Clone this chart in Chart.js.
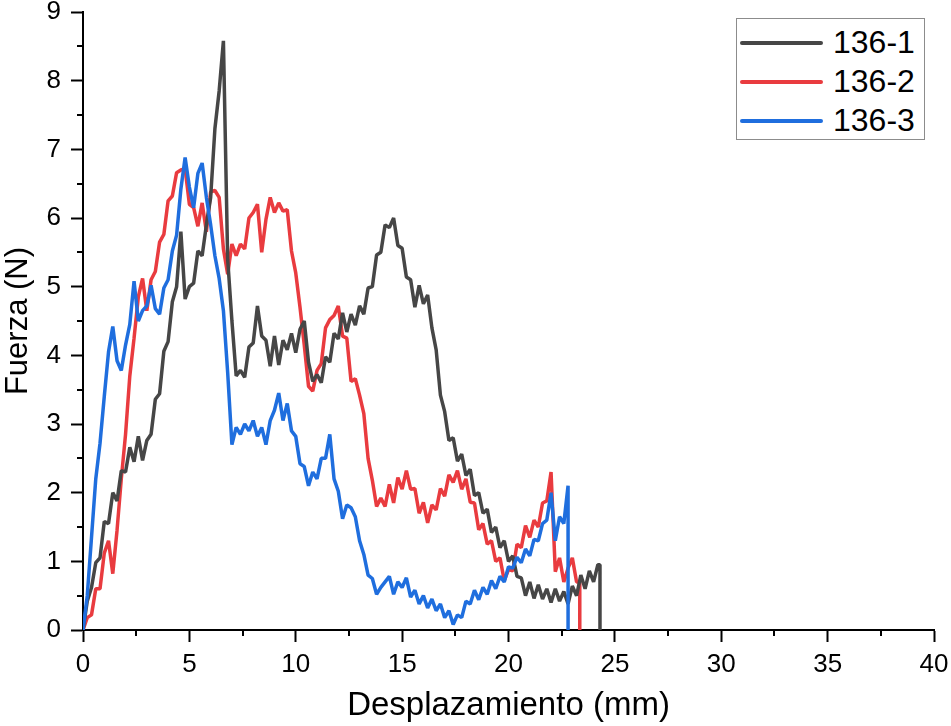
<!DOCTYPE html>
<html lang="es">
<head>
    <meta charset="UTF-8">
    <title>Fuerza vs Desplazamiento</title>
    <script src="https://cdn.jsdelivr.net/npm/chart.js"></script>
<style>
    body {
        margin: 0;
        background: #fff;
        font-family: 'Liberation Sans', Arial, sans-serif;
    }
    .contenedor {
        position: relative;
        width: 951px;
        height: 726px;
    }
    /* Leyenda dibujada a mano, arriba a la derecha */
    .leyenda {
        position: absolute;
        left: 736px;
        top: 18px;
        width: 189px;
        height: 122px;
        border: 1.5px solid #8c8c8c;
        background: #fff;
        padding-top: 4px;
        box-sizing: border-box;
    }
    .leyenda .fila {
        display: flex;
        align-items: center;
        height: 39px;
    }
    .leyenda .linea {
        width: 83px;
        height: 4px;
        border-radius: 2px;
        margin-left: 3px;
        margin-right: 10px;
    }
    .leyenda span {
        font-size: 32px;
        color: #000;
    }
</style>
</head>
<body>
<div class="contenedor">
    <canvas id="grafico" width="951" height="726"></canvas>
    <div class="leyenda" id="leyenda"></div>
</div>

<script>
// Datos
const etiquetas = ['136-1', '136-2', '136-3'];
const colores = ['#464646', '#e93b3f', '#1f6ede'];

// desplazamiento (mm), paso de 0.2
const desplazamiento = [0,0.2,0.4,0.6,0.8,1,1.2,1.4,1.6,1.8,2,2.2,2.4,2.6,2.8,3,3.2,3.4,3.6,3.8,
    4,4.2,4.4,4.6,4.8,5,5.2,5.4,5.6,5.8,6,6.2,6.4,6.6,6.8,7,7.2,7.4,7.6,7.8,
    8,8.2,8.4,8.6,8.8,9,9.2,9.4,9.6,9.8,10,10.2,10.4,10.6,10.8,11,11.2,11.4,11.6,11.8,
    12,12.2,12.4,12.6,12.8,13,13.2,13.4,13.6,13.8,14,14.2,14.4,14.6,14.8,15,15.2,15.4,15.6,15.8,
    16,16.2,16.4,16.6,16.8,17,17.2,17.4,17.6,17.8,18,18.2,18.4,18.6,18.8,19,19.2,19.4,19.6,19.8,
    20,20.2,20.4,20.6,20.8,21,21.2,21.4,21.6,21.8,22,22.2,22.4,22.6,22.8,23,23.2,23.4,23.6,23.8,
    24,24.2];

// fuerza (N) de cada probeta
const fuerza1 = [0,0.42,0.62,0.98,1.05,1.58,1.55,2.0,1.88,2.32,
    2.3,2.66,2.45,2.82,2.47,2.76,2.85,3.36,3.44,4.06,
    4.2,4.78,5.0,5.8,4.82,5.0,5.05,5.52,5.45,5.9,
    6.3,7.3,7.85,8.58,5.4,4.5,3.7,3.78,3.68,4.12,
    4.18,4.72,4.28,4.22,3.84,4.28,3.86,4.22,4.08,4.32,
    4.04,4.38,4.5,3.9,3.62,3.72,3.6,3.98,3.9,4.32,
    4.24,4.62,4.34,4.6,4.44,4.72,4.6,4.98,5.0,5.46,
    5.5,5.9,5.86,6.0,5.6,5.56,5.14,5.1,4.7,5.02,
    4.75,4.88,4.4,4.08,3.42,3.18,2.76,2.8,2.46,2.56,
    2.25,2.34,1.96,2.0,1.7,1.76,1.42,1.5,1.2,1.3,
    1.0,1.08,0.78,0.76,0.5,0.7,0.46,0.66,0.45,0.6,
    0.4,0.6,0.42,0.56,0.38,0.64,0.5,0.8,0.6,0.86,
    0.7,0.95];

const fuerza2 = [0,0.18,0.22,0.6,0.6,1.12,1.3,0.82,1.45,2.2,
    2.85,3.7,4.25,4.85,5.12,4.65,5.1,5.22,5.65,5.76,
    6.25,6.32,6.66,6.7,6.72,6.2,6.15,5.88,6.22,5.8,
    6.38,6.4,6.3,5.55,5.18,5.62,5.45,5.62,5.55,6.0,
    6.08,6.2,5.5,5.98,6.3,6.08,6.22,6.1,6.12,5.52,
    5.2,4.7,4.15,3.55,3.48,3.78,3.88,4.4,4.52,4.58,
    4.72,4.28,4.25,3.62,3.66,3.42,3.15,2.5,2.18,1.8,
    1.92,1.8,2.12,1.85,2.22,2.05,2.32,2.05,2.06,1.7,
    1.86,1.56,1.82,1.75,2.06,1.95,2.26,2.15,2.32,2.05,
    2.2,1.86,1.85,1.46,1.55,1.25,1.3,1.0,1.05,0.72,
    0.88,0.86,1.25,1.2,1.52,1.35,1.6,1.5,1.85,1.88,
    2.3,0.85,1.05,0.7,0.9,1.05,0.7];

const fuerza3 = [0,0.5,1.35,2.2,2.72,3.4,4.05,4.42,3.92,3.78,
    4.15,4.45,5.08,4.5,4.65,4.72,5.02,4.68,4.6,4.98,
    5.1,5.52,5.75,6.42,6.88,6.45,6.15,6.65,6.8,6.3,
    5.9,5.45,5.12,4.65,3.75,2.7,2.95,2.85,3.0,2.9,
    3.05,2.82,2.95,2.7,3.05,3.2,3.45,3.05,3.3,2.9,
    2.82,2.42,2.38,2.1,2.3,2.2,2.5,2.5,2.85,2.2,
    2.02,1.62,1.82,1.78,1.65,1.3,1.1,0.8,0.75,0.52,
    0.62,0.7,0.78,0.52,0.7,0.62,0.76,0.48,0.58,0.38,
    0.5,0.32,0.45,0.28,0.38,0.18,0.28,0.08,0.22,0.18,
    0.42,0.38,0.58,0.44,0.62,0.52,0.72,0.6,0.78,0.7,
    0.92,0.9,1.06,0.98,1.18,1.08,1.32,1.3,1.55,1.6,
    2.0,1.3,1.65,1.55,2.1];

// desplazamiento donde la probeta rompe y la fuerza cae a 0
const corte = [24.3, 23.35, 22.8];

const series = [fuerza1, fuerza2, fuerza3];

function puntos(ys, fin) {
    const p = ys.map((y, i) => ({ x: desplazamiento[i], y: y }));
    p.push({ x: fin, y: ys[ys.length - 1] });
    p.push({ x: fin, y: 0 });
    return p;
}

// marcas menores (entre las principales)
const marcasMenores = {
    id: 'marcasMenores',
    afterDraw(chart) {
        const ctx = chart.ctx;
        const xs = chart.scales.x, ys = chart.scales.y;
        const area = chart.chartArea;
        ctx.save();
        ctx.strokeStyle = '#000';
        ctx.lineWidth = 2;
        ctx.beginPath();
        for (let v = 2.5; v < 40; v += 5) {
            const px = Math.round(xs.getPixelForValue(v));
            ctx.moveTo(px, area.bottom);
            ctx.lineTo(px, area.bottom + 6);
        }
        for (let v = 0.5; v < 9; v += 1) {
            const py = Math.round(ys.getPixelForValue(v));
            ctx.moveTo(area.left, py);
            ctx.lineTo(area.left - 6, py);
        }
        ctx.stroke();
        ctx.restore();
    }
};

const ctx = document.getElementById('grafico').getContext('2d');
const ordenes = [2, 3, 1]; // azul encima, rojo debajo

new Chart(ctx, {
    type: 'line',
    data: {
        datasets: series.map((s, i) => ({
            label: etiquetas[i],
            data: puntos(s, corte[i]),
            borderColor: colores[i],
            borderWidth: 3.5,
            borderJoinStyle: 'bevel',
            pointRadius: 0,
            tension: 0,
            fill: false,
            order: ordenes[i]
        }))
    },
    options: {
        responsive: false,
        animation: false,
        layout: { padding: { top: 12, right: 17, left: 0, bottom: 0 } },
        plugins: {
            legend: { display: false },
            tooltip: { enabled: false }
        },
        scales: {
            x: {
                type: 'linear',
                min: 0,
                max: 40,
                ticks: {
                    stepSize: 5,
                    color: '#000',
                    padding: 7,
                    maxRotation: 0,
                    font: { family: 'Liberation Sans', size: 26 }
                },
                grid: {
                    drawOnChartArea: false,
                    tickLength: 12,
                    tickWidth: 2,
                    tickColor: '#000'
                },
                border: { color: '#000', width: 2 },
                title: {
                    display: true,
                    text: 'Desplazamiento (mm)',
                    color: '#000',
                    font: { family: 'Liberation Sans', size: 33 },
                    padding: { top: 0, bottom: 0 }
                },
                afterFit(s) {
                    s.height = 96;
                    s.paddingLeft = 0;
                    s.paddingRight = 0;
                }
            },
            y: {
                min: 0,
                max: 9,
                ticks: {
                    stepSize: 1,
                    color: '#000',
                    padding: 10,
                    font: { family: 'Liberation Sans', size: 26 }
                },
                grid: {
                    drawOnChartArea: false,
                    tickLength: 12,
                    tickWidth: 2,
                    tickColor: '#000'
                },
                border: { color: '#000', width: 2 },
                title: {
                    display: true,
                    text: 'Fuerza (N)',
                    color: '#000',
                    font: { family: 'Liberation Sans', size: 31 },
                    padding: { top: 0, bottom: 0 }
                },
                afterFit(s) {
                    s.width = 83;
                    s.paddingTop = 0;
                    s.paddingBottom = 0;
                }
            }
        }
    },
    plugins: [marcasMenores]
});

// leyenda
const leyenda = document.getElementById('leyenda');
etiquetas.forEach((et, i) => {
    const fila = document.createElement('div');
    fila.className = 'fila';
    fila.innerHTML = '<div class="linea" style="background:' + colores[i] + '"></div><span>' + et + '</span>';
    leyenda.appendChild(fila);
});
</script>
</body>
</html>
